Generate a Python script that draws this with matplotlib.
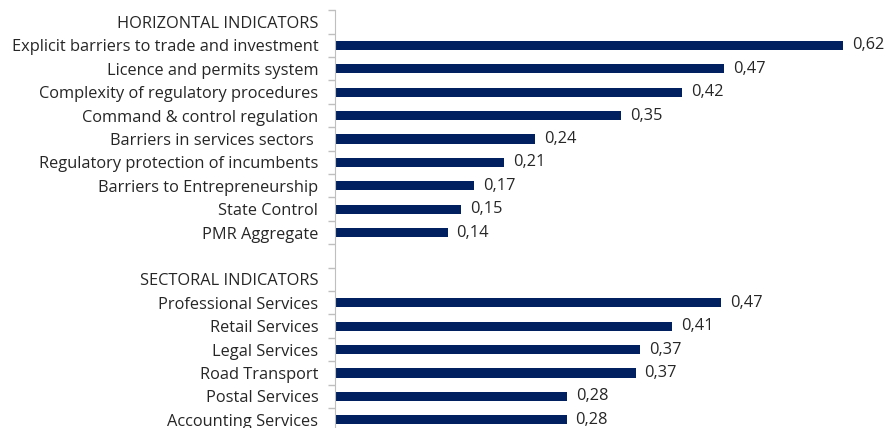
import matplotlib
matplotlib.use('Agg')
import matplotlib.pyplot as plt
import numpy as np

# rows top to bottom; None = header / spacer without a bar
labels = ["HORIZONTAL INDICATORS",
          "Explicit barriers to trade and investment",
          "Licence and permits system",
          "Complexity of regulatory procedures",
          "Command & control regulation",
          "Barriers in services sectors ",
          "Regulatory protection of incumbents",
          "Barriers to Entrepreneurship",
          "State Control",
          "PMR Aggregate",
          "",
          "SECTORAL INDICATORS",
          "Professional Services",
          "Retail Services",
          "Legal Services",
          "Road Transport",
          "Postal Services",
          "Accounting Services"]
values = [None, 0.619, 0.474, 0.423, 0.348, 0.244, 0.206, 0.169, 0.153, 0.137,
          None, None, 0.470, 0.410, 0.372, 0.366, 0.283, 0.282]

bar_color = "#002060"
text_color = "#262626"
fs = 11.8

plt.rcParams['font.family'] = ['Open Sans', 'DejaVu Sans']

fig = plt.figure(figsize=(8.89, 4.28), dpi=100)
ax = fig.add_axes([335 / 889, 1 - 431.5 / 428, 542 / 889, 421.2 / 428])

n = len(labels)
ys = np.arange(n)
for y, v in zip(ys, values):
    if v is None:
        continue
    ax.barh(y, v, height=0.4, color=bar_color)
    ax.text(v + 0.011, y, f"{v:.2f}".replace(".", ","), va='center', ha='left',
            fontsize=fs, color=text_color)

ax.set_ylim(n - 0.5, -0.5)
ax.set_xlim(0, 0.66)
ax.set_yticks(ys)
ax.set_yticklabels(labels, fontsize=fs, color=text_color)
ax.set_yticks(np.arange(n + 1) - 0.5, minor=True)
ax.tick_params(axis='y', which='major', length=0, pad=12)
ax.tick_params(axis='y', which='minor', length=5, color='#bfbfbf', width=1)
ax.set_xticks([])
for s in ['top', 'right', 'bottom']:
    ax.spines[s].set_visible(False)
ax.spines['left'].set_color('#bfbfbf')

fig.savefig("out.png", dpi=100)
